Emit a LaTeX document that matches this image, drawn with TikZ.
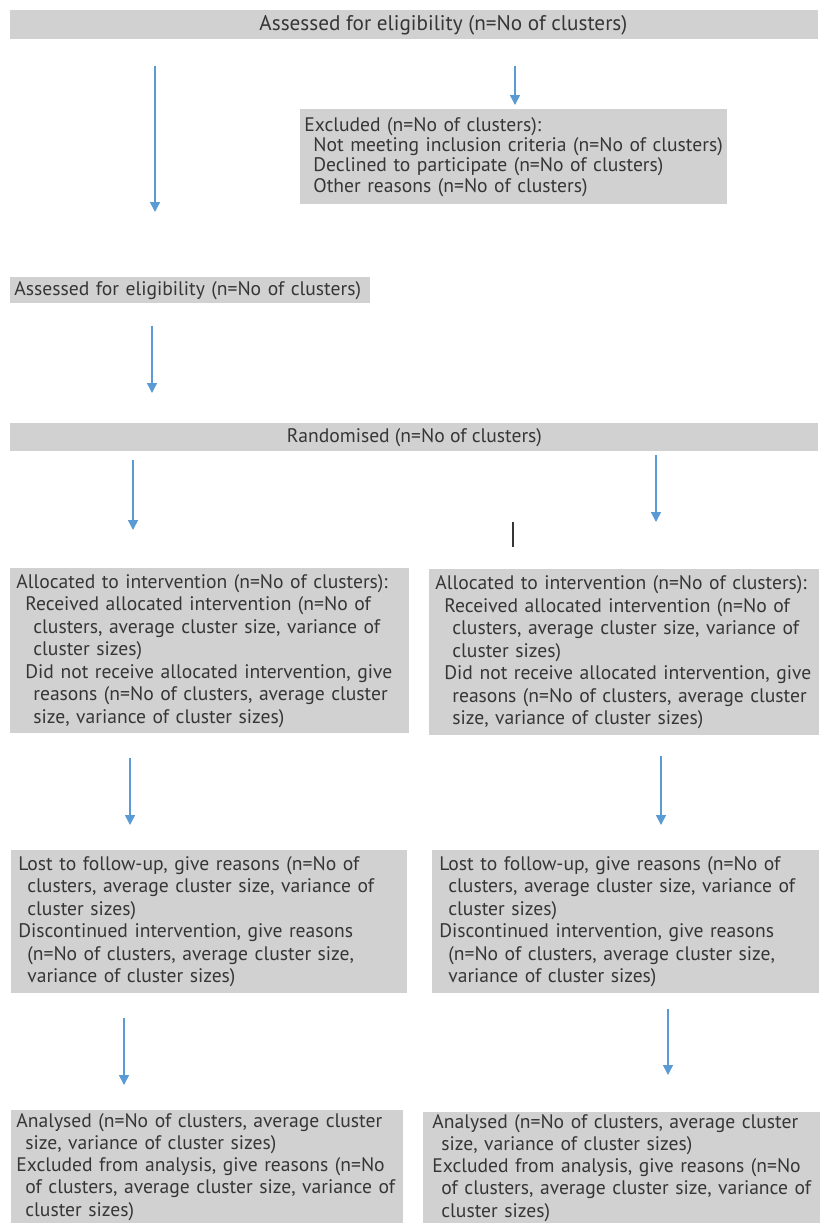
\documentclass[tikz,border=0pt]{standalone}
\usepackage{fontspec}
\setmainfont{PT Sans}
\usepackage{tikz}
\usetikzlibrary{arrows.meta,positioning}
\definecolor{boxgray}{HTML}{D1D1D1}
\definecolor{txtgray}{HTML}{363636}
\definecolor{arrowblue}{HTML}{5B9BD5}
\newcommand{\lvlone}{\hspace*{4.5pt}}
\newcommand{\lvltwo}{\hspace*{8.5pt}}

\begin{document}
\begin{tikzpicture}[x = .5pt, y = -.5pt,
    box/.style = {fill = boxgray, text = txtgray, anchor = north west, inner xsep = 3pt, inner ysep = 0pt, align = left, font = \fontsize{9.8}{11.25}\selectfont},
    bar/.style = {fill = boxgray, text = txtgray, anchor = north west, inner sep = 0pt, font = \fontsize{9.8}{11.25}\selectfont},
    flow/.style = {draw = arrowblue, line width = .75pt, -{Triangle[width = 5pt, length = 5pt]}}]
    \useasboundingbox (0,0) rectangle (823,1223);
    % screening
    \node[bar, minimum width = 404pt, minimum height = 14.5pt, font = \fontsize{10.6}{12}\selectfont] (assess) at (10,10) {\hspace*{29pt}Assessed for eligibility (n=No of clusters)};
    \node[box, inner xsep = 2pt, text width = 209.5pt, minimum height = 47.5pt, font = \fontsize{9.8}{10.2}\selectfont] (excl) at (300,109) {Excluded (n=No of clusters):\\
        \lvlone Not meeting inclusion criteria (n=No of clusters)\\
        \lvlone Declined to participate (n=No of clusters)\\
        \lvlone Other reasons (n=No of clusters)};
    \node[box, inner xsep = 2pt, text width = 176pt, minimum height = 13pt] (assesstwo) at (10,277) {Assessed for eligibility (n=No of clusters)};
    \node[bar, minimum width = 404pt, minimum height = 14pt] (random) at (10,423) {Randomised (n=No of clusters)};
    % allocation
    \node[box, text width = 193.5pt, minimum height = 82.5pt] (allocL) at (10,568) {Allocated to intervention (n=No of clusters):\\
        \lvlone Received allocated intervention (n=No of\\
        \lvltwo clusters, average cluster size, variance of\\
        \lvltwo cluster sizes)\\
        \lvlone Did not receive allocated intervention, give\\
        \lvltwo reasons (n=No of clusters, average cluster\\
        \lvltwo size, variance of cluster sizes)};
    \node[box, text width = 189pt, minimum height = 83pt] (allocR) at (429,569) {Allocated to intervention (n=No of clusters):\\
        \lvlone Received allocated intervention (n=No of\\
        \lvltwo clusters, average cluster size, variance of\\
        \lvltwo cluster sizes)\\
        \lvlone Did not receive allocated intervention, give\\
        \lvltwo reasons (n=No of clusters, average cluster\\
        \lvltwo size, variance of cluster sizes)};
    % follow-up
    \node[box, inner xsep = 3.5pt, text width = 191pt, minimum height = 71.5pt] (lostL) at (11,850) {Lost to follow-up, give reasons (n=No of\\
        \lvlone clusters, average cluster size, variance of\\
        \lvlone cluster sizes)\\
        Discontinued intervention, give reasons\\
        \lvlone (n=No of clusters, average cluster size,\\
        \lvlone variance of cluster sizes)};
    \node[box, inner xsep = 3.5pt, text width = 186.5pt, minimum height = 71.5pt] (lostR) at (432,850) {Lost to follow-up, give reasons (n=No of\\
        \lvlone clusters, average cluster size, variance of\\
        \lvlone cluster sizes)\\
        Discontinued intervention, give reasons\\
        \lvlone (n=No of clusters, average cluster size,\\
        \lvlone variance of cluster sizes)};
    % analysis
    \node[box, inner xsep = 2.5pt, text width = 191pt, minimum height = 56.5pt, font = \fontsize{9.8}{11.1}\selectfont] (analL) at (11,1110) {Analysed (n=No of clusters, average cluster\\
        \lvlone size, variance of cluster sizes)\\
        Excluded from analysis, give reasons (n=No\\
        \lvlone of clusters, average cluster size, variance of\\
        \lvlone cluster sizes)};
    \node[box, inner xsep = 4.5pt, text width = 189.5pt, minimum height = 55.5pt, font = \fontsize{9.8}{11.1}\selectfont] (analR) at (423,1112) {Analysed (n=No of clusters, average cluster\\
        \lvlone size, variance of cluster sizes)\\
        Excluded from analysis, give reasons (n=No\\
        \lvlone of clusters, average cluster size, variance of\\
        \lvlone cluster sizes)};
    % arrows
    \draw[flow, shorten <= 13pt, shorten >= 32.5pt] (assess.south -| 155,0) -- (assesstwo.north -| 155,0);
    \draw[flow, shorten <= 13pt, shorten >= 2pt] (assess.south -| 515,0) -- (excl.north -| 515,0);
    \draw[flow, shorten <= 11pt, shorten >= 15pt] (assesstwo.south -| 152,0) -- (random.north -| 152,0);
    \draw[flow, shorten <= 4pt, shorten >= 19pt] (random.south -| 133,0) -- (allocL.north -| 133,0);
    \draw[flow, shorten <= 1.5pt, shorten >= 23.5pt] (random.south -| 656,0) -- (allocR.north -| 656,0);
    \draw[flow, shorten <= 12pt, shorten >= 12.5pt] (allocL.south -| 130,0) -- (lostL.north -| 130,0);
    \draw[flow, shorten <= 10pt, shorten >= 12.5pt] (allocR.south -| 661,0) -- (lostR.north -| 661,0);
    \draw[flow, shorten <= 12pt, shorten >= 12.5pt] (lostL.south -| 124,0) -- (analL.north -| 124,0);
    \draw[flow, shorten <= 7.5pt, shorten >= 18.5pt] (lostR.south -| 668,0) -- (analR.north -| 668,0);
    % stray cursor mark
    \draw[txtgray, line width = .9pt] (513,522) -- (513,547);
\end{tikzpicture}
\end{document}
